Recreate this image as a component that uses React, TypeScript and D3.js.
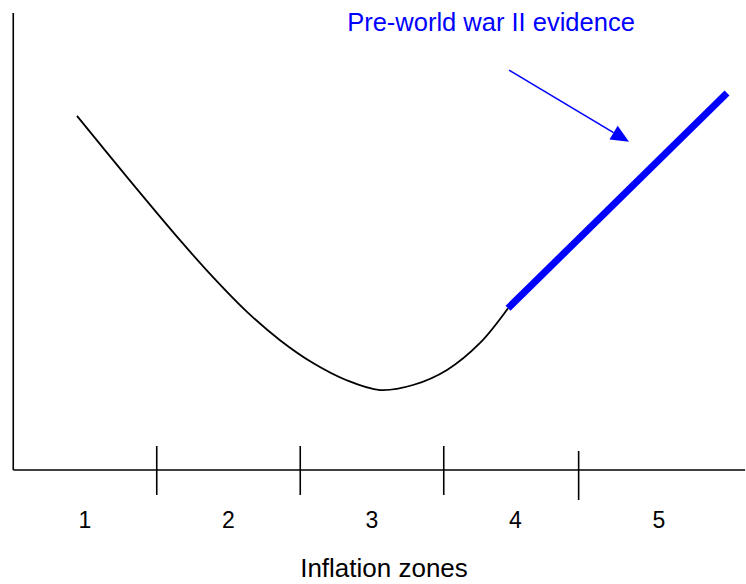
import React from "react";
import * as d3 from "d3";

// zone labels along the x axis
const zones = ["1", "2", "3", "4", "5"];
// boundaries between zones (zone units)
const zoneBounds = [1.5, 2.5, 3.5, 4.44];

// black curve: [zone position, level]
const curveX = [0.944, 1.293, 1.662, 1.892, 2.129, 2.359, 2.589, 2.819, 3.056, 3.286, 3.523, 3.753, 3.948];
const curveY = [77.5, 64.1, 50.3, 42.2, 34.6, 28.4, 23.4, 19.7, 17.5, 18.6, 21.9, 27.8, 35.4];

// blue "pre-war" segment
const evidenceX = [3.948, 5.474];
const evidenceY = [35.4, 82.5];

// annotation arrow
const arrowX = [3.955, 4.791];
const arrowY = [87.5, 71.8];

const annotation = "Pre-world war II evidence";
const xTitle = "Inflation zones";

const W = 746;
const H = 584;

export default function App() {
  const x = d3.scaleLinear().domain([1, 5]).range([85, 659]);
  const y = d3.scaleLinear().domain([0, 100]).range([470, 13]);

  const x0 = x(0.5);
  const x1 = x(5.6);
  const y0 = y(0);

  const pts: [number, number][] = curveX.map((d, i) => [d, curveY[i]]);
  const line = d3
    .line<[number, number]>()
    .x((d) => x(d[0]))
    .y((d) => y(d[1]))
    .curve(d3.curveCatmullRom.alpha(0.5));

  const blue: [number, number][] = evidenceX.map((d, i) => [d, evidenceY[i]]);
  const straight = d3
    .line<[number, number]>()
    .x((d) => x(d[0]))
    .y((d) => y(d[1]));

  const ax = x(arrowX[1]);
  const ay = y(arrowY[1]);
  const sx = x(arrowX[0]);
  const sy = y(arrowY[0]);
  const ang = Math.atan2(ay - sy, ax - sx);
  const headLen = 18;
  const headW = 8;
  const bx = ax - headLen * Math.cos(ang);
  const by = ay - headLen * Math.sin(ang);
  const head = [
    [ax, ay],
    [bx + headW * Math.sin(ang), by - headW * Math.cos(ang)],
    [bx - headW * Math.sin(ang), by + headW * Math.cos(ang)],
  ]
    .map((p) => p.join(","))
    .join(" ");

  const font = "Arial, 'Liberation Sans', Helvetica, sans-serif";

  return (
    <svg
      width={W}
      height={H}
      style={{ position: "absolute", left: 0, top: 0, background: "#fff" }}
      fontFamily={font}
    >
      {/* axes */}
      <line x1={x0} y1={y(100)} x2={x0} y2={y0} stroke="#000" strokeWidth={1.6} />
      <line x1={x0} y1={y0} x2={x1} y2={y0} stroke="#000" strokeWidth={1.6} />
      {zoneBounds.map((b, i) => {
        const last = i === zoneBounds.length - 1;
        return (
          <line
            key={b}
            x1={x(b)}
            x2={x(b)}
            y1={y0 - (last ? 19 : 24)}
            y2={y0 + (last ? 30 : 25)}
            stroke="#000"
            strokeWidth={1.6}
          />
        );
      })}
      {zones.map((z, i) => (
        <text key={z} x={x(i + 1)} y={y0 + 58} textAnchor="middle" fontSize={23} fill="#000">
          {z}
        </text>
      ))}
      <text x={384} y={577} textAnchor="middle" fontSize={26} fill="#000">
        {xTitle}
      </text>

      {/* curve */}
      <path d={line(pts) || ""} fill="none" stroke="#000" strokeWidth={1.8} />
      <path d={straight(blue) || ""} fill="none" stroke="#0000ff" strokeWidth={7} />

      {/* annotation */}
      <line x1={sx} y1={sy} x2={bx} y2={by} stroke="#0000ff" strokeWidth={1.6} />
      <polygon points={head} fill="#0000ff" />
      <text x={491} y={31} textAnchor="middle" fontSize={25.5} fill="#0000ff">
        {annotation}
      </text>
    </svg>
  );
}
